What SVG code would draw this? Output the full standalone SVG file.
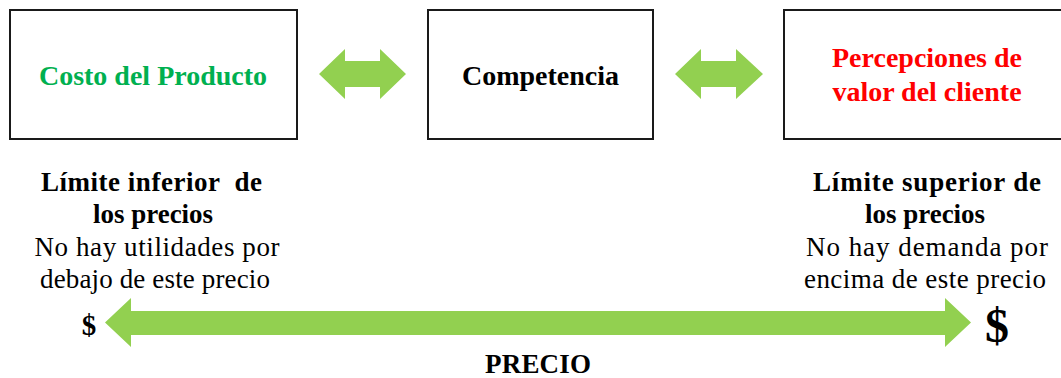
<svg xmlns="http://www.w3.org/2000/svg" width="1061" height="378" viewBox="0 0 1061 378">
<style>
.box{fill:#fff;stroke:#1a1a1a;stroke-width:2}
.arr{fill:#92D050}
.t{font-family:"Liberation Serif","Times New Roman",serif;text-anchor:middle}
.b{font-weight:bold}
.top{font-size:28px;font-weight:bold}
.lbl{font-size:27px}
</style>
<rect width="1061" height="378" fill="#fff"/>
<g id="node-costo">
<rect class="box" x="10" y="10" width="287" height="129"/>
<text class="t top" x="153" y="85" fill="#00B050">Costo del Producto</text>
</g>
<g id="node-competencia">
<rect class="box" x="428" y="10" width="225" height="129"/>
<text class="t top" x="540.5" y="85" fill="#000">Competencia</text>
</g>
<g id="node-percepciones">
<rect class="box" x="784" y="10" width="282" height="129"/>
<text class="t top" x="927" y="67" fill="#FF0000">Percepciones de</text>
<text class="t top" x="927" y="101" fill="#FF0000">valor del cliente</text>
</g>
<g id="connectors">
<polygon class="arr" points="319,74 345,49 345,61 380,61 380,49 406,74 380,99 380,87 345,87 345,99"/>
<polygon class="arr" points="675,74 701,49 701,61 736,61 736,49 763,74 736,99 736,87 701,87 701,99"/>
<polygon class="arr" points="105,322.5 131,298 131,311 945,311 945,298 971,322.5 945,347 945,335 131,335 131,347"/>
</g>
<g id="limite-inferior">
<text class="t b lbl" x="151.5" y="191" textLength="221" lengthAdjust="spacing" xml:space="preserve">Límite inferior  de</text>
<text class="t b lbl" x="153" y="223">los precios</text>
<text class="t lbl" x="157" y="256" textLength="245" lengthAdjust="spacing">No hay utilidades por</text>
<text class="t lbl" x="155" y="288" textLength="230" lengthAdjust="spacing">debajo de este precio</text>
<text class="t b" x="89" y="335" font-size="29">$</text>
</g>
<g id="limite-superior">
<text class="t b lbl" x="927" y="191" textLength="228" lengthAdjust="spacing">Límite superior de</text>
<text class="t b lbl" x="925" y="223">los precios</text>
<text class="t lbl" x="927" y="256" textLength="242" lengthAdjust="spacing">No hay demanda por</text>
<text class="t lbl" x="925" y="288" textLength="242" lengthAdjust="spacing">encima de este precio</text>
<text class="t b" x="997" y="342" font-size="48">$</text>
</g>
<g id="precio">
<text class="t b" x="538" y="373" font-size="27" textLength="106" lengthAdjust="spacing">PRECIO</text>
</g>
</svg>
